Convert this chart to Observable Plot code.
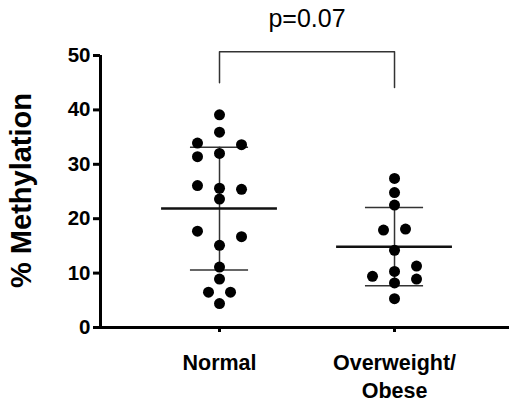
<!DOCTYPE html>
<html>
<head>
<meta charset="utf-8">
<script src="https://cdn.jsdelivr.net/npm/d3@7"></script>
<script src="https://cdn.jsdelivr.net/npm/@observablehq/plot@0.6"></script>
<style>
  html, body { margin: 0; padding: 0; background: #fff; }
  #chart svg { display: block; }
</style>
</head>
<body>
<div id="chart"></div>
<script>
// ---- data ----
const groups = ["Normal", "Overweight/\nObese"];
const normalValues = [39.1, 35.9, 33.9, 33.6, 31.4, 32.0, 26.1, 25.6, 25.4, 23.6, 17.7, 16.7, 15.1, 11.1, 8.9, 6.5, 6.5, 4.4];
const normalSlots  = [0, 0, -2, 2, -2, 0, -2, 0, 2, 0, -2, 2, 0, 0, 0, -1, 1, 0];
const obeseValues  = [27.4, 24.8, 22.5, 17.9, 18.1, 14.2, 11.3, 10.3, 9.4, 8.2, 8.9, 5.3];
const obeseSlots   = [0, 0, 0, -1, 1, 0, 2, 0, -2, 0, 2, 0];
const yTicks = [0, 10, 20, 30, 40, 50];
const yLabel = "% Methylation";
const pLabel = "p=0.07";
const bracketTop = 50.7, bracketLeftEnd = 45.0, bracketRightEnd = 44.1;

// ---- derived tables ----
const slotWidth = 0.0629;
const points = [
  ...normalValues.map((v, i) => ({g: 0, v, slot: normalSlots[i]})),
  ...obeseValues.map((v, i) => ({g: 1, v, slot: obeseSlots[i]}))
];
const stats = [normalValues, obeseValues].map((vals, g) => {
  const m = d3.mean(vals), s = d3.deviation(vals);
  return {g, mean: m, lo: m - s, hi: m + s};
});
const bracket = [
  {x: 0, y: bracketLeftEnd}, {x: 0, y: bracketTop},
  {x: 1, y: bracketTop}, {x: 1, y: bracketRightEnd}
];
const xMin = -0.68, xMax = 1.657;

const chart = Plot.plot({
  width: 509,
  height: 406,
  marginLeft: 100,
  marginRight: 0,
  marginTop: 55,
  marginBottom: 79,
  style: {fontFamily: "'Liberation Sans', Arial, sans-serif", background: "#fff", color: "#000"},
  x: {domain: [xMin, xMax], axis: null},
  y: {domain: [0, 50], axis: null},
  marks: [
    Plot.axisY({ticks: yTicks, tickSize: 7, tickPadding: 3, fontSize: 20.5, fontWeight: "bold", strokeWidth: 3, fill: "#000", stroke: "#000"}),
    Plot.axisX({ticks: [0, 1], tickFormat: i => groups[i], tickSize: 5, tickPadding: 18, fontSize: 21.5, fontWeight: "bold", lineHeight: 1.28, strokeWidth: 3, fill: "#000", stroke: "#000"}),
    Plot.ruleY([0], {strokeWidth: 3, stroke: "#000"}),
    Plot.ruleX([xMin], {y1: 0, y2: 50, strokeWidth: 3, stroke: "#000"}),
    Plot.text([yLabel], {frameAnchor: "left", textAnchor: "middle", dx: -79, dy: -1, rotate: -90, fontSize: 29, fontWeight: "bold", fill: "#000"}),
    Plot.line(bracket, {x: "x", y: "y", stroke: "#333", strokeWidth: 1.5}),
    Plot.text([pLabel], {x: () => 0.5, y: () => 56.8, fontSize: 25, fill: "#000"}),
    Plot.ruleX(stats, {x: "g", y1: "lo", y2: "hi", stroke: "#333", strokeWidth: 1.5}),
    Plot.ruleY(stats, {y: "hi", x1: d => d.g - 0.166, x2: d => d.g + 0.166, stroke: "#333", strokeWidth: 1.5}),
    Plot.ruleY(stats, {y: "lo", x1: d => d.g - 0.166, x2: d => d.g + 0.166, stroke: "#333", strokeWidth: 1.5}),
    Plot.ruleY(stats, {y: "mean", x1: d => d.g - 0.331, x2: d => d.g + 0.331, stroke: "#111", strokeWidth: 2.5}),
    Plot.dot(points, {x: d => d.g + d.slot * slotWidth, y: "v", r: 5.5, fill: "#000", stroke: "none"})
  ]
});
document.getElementById("chart").appendChild(chart);
</script>
</body>
</html>
